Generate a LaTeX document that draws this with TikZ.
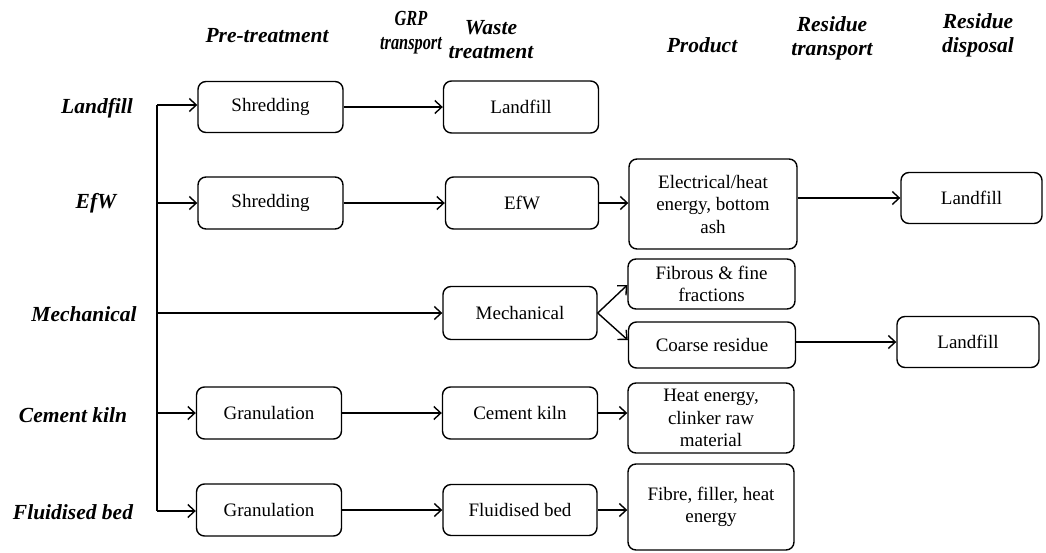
\documentclass[tikz,border=0pt]{standalone}
\usepackage{fontspec}
\setmainfont{Liberation Serif}
\newfontfamily\grpfont[FakeStretch=0.76]{Liberation Serif}
\usetikzlibrary{arrows.meta}
\begin{document}
\begin{tikzpicture}[x=1pt,y=-1pt,
  box/.style={draw,line width=1.4pt,rounded corners=8pt,align=center,
    inner sep=2pt,font=\fontsize{19}{22.5}\selectfont},
  head/.style={align=center,font=\fontsize{21.5}{24}\selectfont\bfseries\itshape},
  conn/.style={line width=1.4pt,-{Straight Barb[length=7pt,width=13pt,line width=1.4pt]}},
  plain/.style={line width=1.4pt}]
\useasboundingbox (0,0) rectangle (1046,552);
% headings
\node[head] (hpre) at (267,36) {Pre-treatment};
\node[head,font=\fontsize{21.5}{24}\grpfont\bfseries\itshape] (hgrp) at (411,33) {GRP\\transport};
\node[head] (hwt) at (491,40) {Waste\\treatment};
\node[head] (hprod) at (702,45) {Product};
\node[head] (hrt) at (832,38) {Residue\\transport};
\node[head] (hrd) at (978,35) {Residue\\disposal};
% row labels
\node[head] (lland) at (97,108) {Landfill};
\node[head] (lefw) at (96,203) {EfW};
\node[head] (lmech) at (84,314) {Mechanical};
\node[head] (lcem) at (73,415) {Cement kiln};
\node[head] (lflu) at (73,512) {Fluidised bed};
% spine
\coordinate (s1) at (157,105);
\coordinate (s2) at (157,203);
\coordinate (s3) at (157,313);
\coordinate (s4) at (157,413);
\coordinate (s5) at (157,511);
\draw[plain] (s1) -- (s5);
% pre-treatment
\node[box,minimum width=145pt,minimum height=51pt] (pre1) at (270.5,107) {Shredding};
\node[box,minimum width=145pt,minimum height=52pt] (pre2) at (270.5,203) {Shredding};
\node[box,minimum width=145pt,minimum height=52pt] (pre4) at (269,413) {Granulation};
\node[box,minimum width=145pt,minimum height=52pt] (pre5) at (269,510) {Granulation};
% waste treatment
\node[box,minimum width=155pt,minimum height=52pt] (wt1) at (521,107) {Landfill};
\node[box,minimum width=153pt,minimum height=52pt] (wt2) at (522,203) {EfW};
\node[box,minimum width=154pt,minimum height=53pt] (wt3) at (520,313) {Mechanical};
\node[box,minimum width=155pt,minimum height=52pt] (wt4) at (520,413) {Cement kiln};
\node[box,minimum width=154pt,minimum height=51pt] (wt5) at (520,510) {Fluidised bed};
% products
\node[box,minimum width=168pt,minimum height=90pt] (p2) at (713,204) {Electrical/heat\\energy, bottom\\ash};
\node[box,minimum width=167pt,minimum height=50pt] (p3a) at (711.5,284) {Fibrous \& fine\\fractions};
\node[box,minimum width=167pt,minimum height=46pt] (p3b) at (712,345) {Coarse residue};
\node[box,minimum width=166pt,minimum height=70pt] (p4) at (711,418) {Heat energy,\\clinker raw\\material};
\node[box,minimum width=166pt,minimum height=86pt] (p5) at (711,507) {Fibre, filler, heat\\energy};
% disposal
\node[box,minimum width=141pt,minimum height=51pt] (d2) at (971.5,198) {Landfill};
\node[box,minimum width=142pt,minimum height=51pt] (d3) at (968,342) {Landfill};
% connectors
\draw[conn] (s1) -- (pre1.west |- s1);
\draw[conn] (s2) -- (pre2.west |- s2);
\draw[conn] (s3) -- (wt3.west |- s3);
\draw[conn] (s4) -- (pre4.west |- s4);
\draw[conn] (s5) -- (pre5.west |- s5);
\draw[conn] (pre1.east) -- (wt1.west);
\draw[conn] (pre2.east) -- (wt2.west);
\draw[conn] (pre4.east) -- (wt4.west);
\draw[conn] (pre5.east) -- (wt5.west);
\draw[conn] (wt2.east) -- (p2.west |- wt2.east);
\draw[conn] (wt3.east) -- (p3a.west |- 0,285);
\draw[conn] (wt3.east) -- (p3b.west |- 0,340);
\draw[conn] (wt4.east) -- (p4.west |- wt4.east);
\draw[conn] (wt5.east) -- (p5.west |- wt5.east);
\draw[conn] (p2.east |- d2.west) -- (d2.west);
\draw[conn] (p3b.east |- d3.west) -- (d3.west);
\end{tikzpicture}
\end{document}
